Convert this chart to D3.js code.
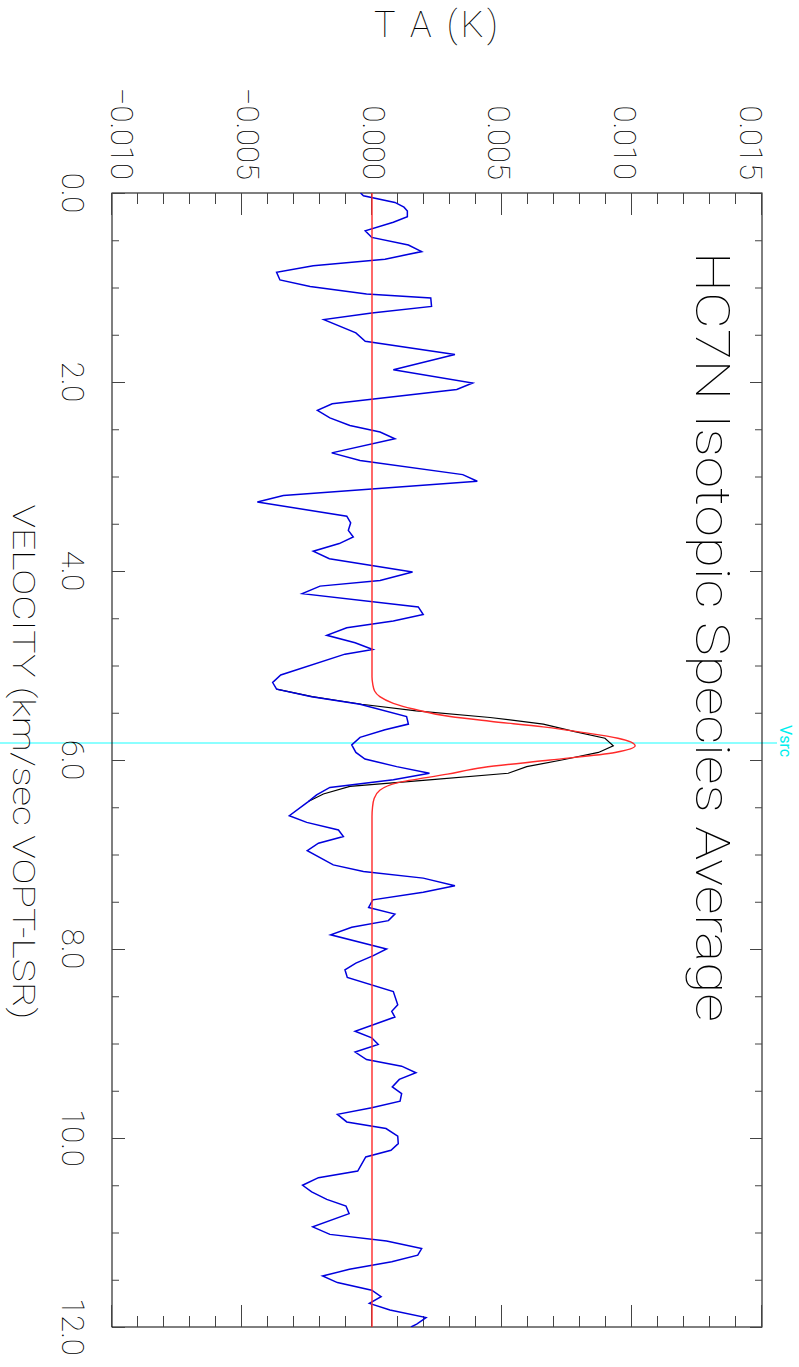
<!DOCTYPE html>
<html>
<head>
<meta charset="utf-8">
<script src="https://cdn.jsdelivr.net/npm/d3@7"></script>
<style>
  body { margin: 0; background: #fff; }
  svg { display: block; }
  text { font-family: Roboto, "DejaVu Sans", sans-serif; font-weight: 100; }
</style>
</head>
<body>
<svg id="chart" width="799" height="1367"></svg>
<script>
// Residual spectrum (observed minus fit), velocity in km/s, antenna temperature in K
const residualVelocity = [
  0.00, 0.03, 0.10, 0.15, 0.19, 0.25, 0.31, 0.40, 0.47, 0.55, 0.62, 0.70, 0.77, 0.84, 0.92, 0.99,
  1.07, 1.11, 1.20, 1.27, 1.34, 1.48, 1.57, 1.71, 1.87, 2.01, 2.08, 2.23, 2.30, 2.38, 2.46, 2.53,
  2.60, 2.75, 2.83, 2.98, 3.05, 3.20, 3.27, 3.42, 3.49, 3.57, 3.64, 3.71, 3.79, 3.87, 4.01, 4.10,
  4.16, 4.24, 4.38, 4.46, 4.53, 4.60, 4.68, 4.76, 4.83, 4.88, 5.10, 5.18, 5.25, 5.33, 5.41, 5.54,
  5.62, 5.68, 5.76, 5.84, 5.92, 5.99, 6.07, 6.14, 6.21, 6.29, 6.37, 6.44, 6.59, 6.66, 6.74, 6.81,
  6.88, 6.96, 7.11, 7.18, 7.25, 7.33, 7.40, 7.48, 7.56, 7.63, 7.70, 7.77, 7.85, 8.00, 8.07, 8.15,
  8.22, 8.30, 8.45, 8.59, 8.66, 8.72, 8.87, 8.94, 9.01, 9.09, 9.17, 9.24, 9.31, 9.38, 9.46, 9.53,
  9.61, 9.68, 9.75, 9.83, 9.90, 9.98, 10.06, 10.13, 10.20, 10.35, 10.42, 10.50, 10.57, 10.65, 10.72, 10.80,
  10.94, 11.02, 11.09, 11.17, 11.24, 11.31, 11.39, 11.46, 11.53, 11.61, 11.68, 11.75, 11.82, 11.90, 11.97, 12.00
];
const residualTA = [
  -0.00044, -0.00033, 0.00088, 0.00123, 0.00136, 0.00136, 0.00082, -0.00026, -0.00001, 0.00140, 0.00191, 0.00050, -0.00226, -0.00367, -0.00354, -0.00238,
  -0.00021, 0.00226, 0.00229, -0.00001, -0.00185, -0.00062, -0.00026, 0.00319, 0.00082, 0.00387, 0.00326, -0.00153, -0.00210, -0.00162, -0.00085, 0.00031,
  0.00088, -0.00155, -0.00046, 0.00349, 0.00405, -0.00341, -0.00441, -0.00097, -0.00082, -0.00091, -0.00072, -0.00126, -0.00226, -0.00164, 0.00156, 0.00031,
  -0.00200, -0.00268, 0.00178, 0.00197, 0.00082, -0.00097, -0.00174, -0.00065, 0.00003, -0.00104, -0.00351, -0.00382, -0.00367, -0.00232, -0.00046, 0.00133,
  0.00140, 0.00050, -0.00046, -0.00078, -0.00062, -0.00027, 0.00095, 0.00221, 0.00082, -0.00162, -0.00213, -0.00245, -0.00318, -0.00251, -0.00129, -0.00110,
  -0.00206, -0.00249, -0.00149, -0.00033, 0.00197, 0.00319, 0.00197, 0.00003, -0.00013, 0.00088, 0.00063, -0.00078, -0.00159, 0.00056, 0.00005, -0.00062,
  -0.00104, -0.00095, 0.00082, 0.00099, 0.00076, 0.00088, -0.00065, -0.00001, 0.00024, -0.00065, -0.00021, 0.00114, 0.00169, 0.00105, 0.00078, 0.00114,
  0.00108, -0.00001, -0.00133, -0.00097, 0.00054, 0.00099, 0.00101, 0.00073, -0.00024, -0.00055, -0.00206, -0.00267, -0.00232, -0.00174, -0.00100, -0.00088,
  -0.00228, -0.00162, 0.00056, 0.00191, 0.00176, 0.00076, -0.00087, -0.00190, -0.00133, -0.00001, 0.00035, -0.00010, 0.00069, 0.00208, 0.00172, 0.00150
];

// Observed spectrum across the emission line (elsewhere it coincides with the residual)
const spectrumVelocity = [5.25, 5.33, 5.41, 5.48, 5.55, 5.62, 5.70, 5.77, 5.85, 5.92, 6.00, 6.07, 6.14, 6.21, 6.28, 6.36, 6.44];
const spectrumTA = [-0.00367, -0.00230, -0.00040, 0.00170, 0.00454, 0.00659, 0.00780, 0.00896, 0.00928, 0.00871, 0.00730, 0.00595, 0.00524, 0.00220, -0.00085, -0.00187, -0.00245];

// Fitted line profile
const fitVelocity = [0.00, 5.12, 5.20, 5.27, 5.33, 5.40, 5.46, 5.54, 5.59, 5.65, 5.71, 5.77, 5.85, 5.92, 6.00, 6.08, 6.15, 6.24, 6.32, 6.41, 6.50, 6.60, 12.00];
const fitTA = [0, 0, 0.00003, 0.00010, 0.00030, 0.00082, 0.00159, 0.00300, 0.00454, 0.00658, 0.00815, 0.00946, 0.01012, 0.00935, 0.00685, 0.00427, 0.00290, 0.00100, 0.00030, 0.00008, 0.00002, 0, 0];

// Source systemic velocity
const vsrc = 5.82;

// Axes
const velocityTicks = [0, 2, 4, 6, 8, 10, 12];
const velocityTickLabels = ["0.0", "2.0", "4.0", "6.0", "8.0", "10.0", "12.0"];
const taTicks = [-0.010, -0.005, 0.000, 0.005, 0.010, 0.015];
const taTickLabels = ["\u22120.010", "\u22120.005", "0.000", "0.005", "0.010", "0.015"];
const titleText = "HC7N Isotopic Species Average";
const xAxisTitle = "VELOCITY (km/sec VOPT-LSR)";
const yAxisTitle = "T A (K)";

// ---------------------------------------------------------------------------
const W = 799, H = 1367;
const svg = d3.select("#chart");

// The plot is laid out in landscape (velocity horizontal) and turned a quarter turn clockwise.
const g = svg.append("g").attr("transform", `translate(${W},0) rotate(90)`);

const x = d3.scaleLinear().domain([0, 12]).range([193, 1327]);
const y = d3.scaleLinear().domain([-0.010, 0.015]).range([687, 37]);
// temperature labels sit slightly inside the end ticks
const yLabel = d3.scaleLinear().domain([-0.010, 0.015]).range([677, 48]);

// systemic velocity marker
g.append("line")
  .attr("x1", x(vsrc)).attr("x2", x(vsrc))
  .attr("y1", W).attr("y2", 22)
  .attr("stroke", "#66ffff").attr("stroke-width", 1.6);
g.append("text")
  .attr("x", x(vsrc) - 18).attr("y", 19)
  .attr("fill", "#00eeee")
  .style("font-size", "16px").style("font-weight", 400)
  .text("Vsrc");

// frame
g.append("rect")
  .attr("x", x(0)).attr("y", y(0.015))
  .attr("width", x(12) - x(0)).attr("height", y(-0.010) - y(0.015))
  .attr("fill", "none").attr("stroke", "#000").attr("stroke-width", 1);

function styleAxis(sel) {
  sel.select(".domain").remove();
  sel.selectAll(".tick line").attr("stroke", "#444").attr("stroke-width", 1);
  sel.selectAll(".tick text").remove();
}

const velMinor = d3.range(0, 24.5).map(i => i * 0.5);
const taMinor = d3.range(-10, 16).map(i => i / 1000);

// velocity ticks, bottom edge of the landscape frame
g.append("g").attr("transform", `translate(0,${y(-0.010)})`)
  .call(d3.axisTop(x).tickValues(velMinor).tickSize(7)).call(styleAxis);
g.append("g").attr("transform", `translate(0,${y(-0.010)})`)
  .call(d3.axisTop(x).tickValues(velocityTicks).tickSize(13)).call(styleAxis);
// velocity ticks, top edge
g.append("g").attr("transform", `translate(0,${y(0.015)})`)
  .call(d3.axisBottom(x).tickValues(velMinor).tickSize(7)).call(styleAxis);
g.append("g").attr("transform", `translate(0,${y(0.015)})`)
  .call(d3.axisBottom(x).tickValues(velocityTicks).tickSize(12)).call(styleAxis);
// temperature ticks, left and right edges
g.append("g").attr("transform", `translate(${x(0)},0)`)
  .call(d3.axisRight(y).tickValues(taMinor).tickSize(11)).call(styleAxis);
g.append("g").attr("transform", `translate(${x(0)},0)`)
  .call(d3.axisRight(y).tickValues(taTicks).tickSize(22)).call(styleAxis);
g.append("g").attr("transform", `translate(${x(12)},0)`)
  .call(d3.axisLeft(y).tickValues(taMinor).tickSize(11)).call(styleAxis);
g.append("g").attr("transform", `translate(${x(12)},0)`)
  .call(d3.axisLeft(y).tickValues(taTicks).tickSize(22)).call(styleAxis);

// tick labels
g.selectAll("text.vlab").data(velocityTicks).join("text")
  .attr("class", "vlab")
  .attr("x", d => x(d)).attr("y", 737)
  .attr("text-anchor", "middle")
  .style("font-size", "31px")
  .text((d, i) => velocityTickLabels[i]);
g.selectAll("text.tlab").data(taTicks).join("text")
  .attr("class", "tlab")
  .attr("x", 180).attr("y", d => yLabel(d) + 11)
  .attr("text-anchor", "end")
  .style("font-size", "31px")
  .text((d, i) => taTickLabels[i]);

// axis titles
g.append("text")
  .attr("x", (x(0) + x(12)) / 2 + 2).attr("y", 786)
  .attr("text-anchor", "middle")
  .style("font-size", "32px")
  .attr("textLength", 515).attr("lengthAdjust", "spacingAndGlyphs")
  .text(xAxisTitle);

// title inside the frame
g.append("text")
  .attr("x", 252).attr("y", 103)
  .style("font-size", "48px")
  .attr("textLength", 770).attr("lengthAdjust", "spacingAndGlyphs")
  .text(titleText);

// spectra
const line = d3.line().x(d => x(d[0])).y(d => y(d[1]));
g.append("clipPath").attr("id", "plotclip").append("rect")
  .attr("x", x(0)).attr("y", y(0.015))
  .attr("width", x(12) - x(0)).attr("height", y(-0.010) - y(0.015));

const plot = g.append("g").attr("clip-path", "url(#plotclip)");
plot.append("path")
  .datum(d3.zip(spectrumVelocity, spectrumTA))
  .attr("d", line).attr("fill", "none")
  .attr("stroke", "#000").attr("stroke-width", 1.2);
plot.append("path")
  .datum(d3.zip(residualVelocity, residualTA))
  .attr("d", line).attr("fill", "none")
  .attr("stroke", "#0000dd").attr("stroke-width", 1.5);
plot.append("path")
  .datum(d3.zip(fitVelocity, fitTA))
  .attr("d", d3.line().curve(d3.curveMonotoneX).x(d => x(d[0])).y(d => y(d[1])))
  .attr("fill", "none")
  .attr("stroke", "#ff2a2a").attr("stroke-width", 1.4);

// temperature axis title, upright at the top of the page
svg.append("text")
  .attr("x", 436).attr("y", 37)
  .attr("text-anchor", "middle")
  .style("font-size", "36px")
  .attr("textLength", 124).attr("lengthAdjust", "spacing")
  .text(yAxisTitle);
</script>
</body>
</html>
